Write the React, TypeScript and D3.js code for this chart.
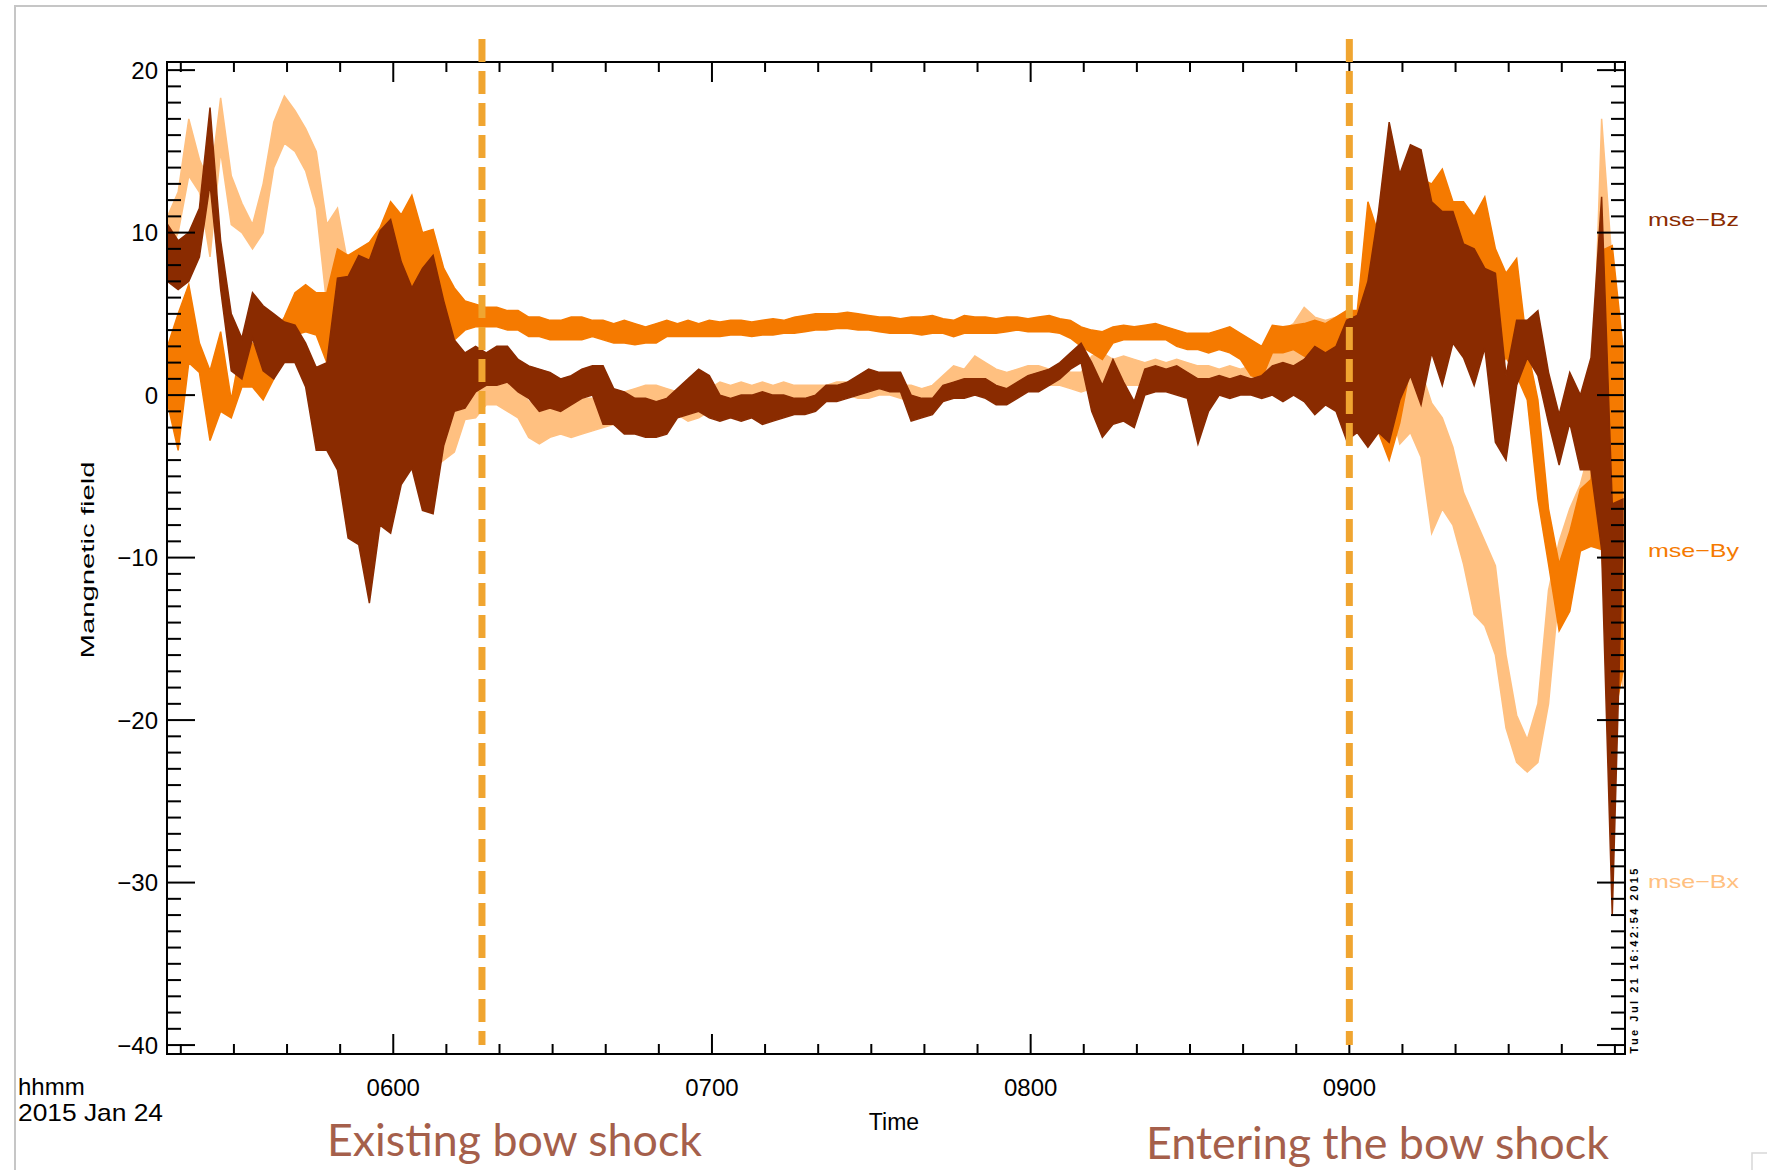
import * as d3 from "d3";

const W = 1767;
const H = 1170;

// samples every 2 min starting 05:17.5 UT (minutes after midnight)
const startMin = 317.5;
const stepMin = 2;

// each series is a low/high band (nT) at every sample
const bxLo = [8.5, 10, 13.5, 12.5, 8.5, 15, 10.5, 10, 9, 10, 14, 15.5, 15, 13.8, 11.5, 5.5, 4.5, 4.5, -4, -8, -5, -6, 4, 5.5, 2, -4.5, -4, -3.5, -1.5, -1.4, -0.6, -0.6, -1, -1.4, -2.6, -3, -2.6, -2.4, -2.6, -2.4, -2.2, -2, -1.8, -1.2, -0.8, -0.6, -0.6, -0.8, -1.2, -1.6, -1.4, -1, -0.8, -1, -0.8, -0.8, -0.6, -0.6, -0.4, -0.4, -0.2, -0.2, -0.2, 0, 0, -0.2, -0.2, 0, 0, -0.2, -0.4, -0.4, -0.2, 0.4, 0.6, 0.6, 0.8, 0.6, 0.4, 0.2, 0.4, 0.6, 0.6, 0.6, 0.6, 0.4, 0.2, 0.4, 0.6, 0.6, 0.6, 0.6, 0.6, 0.6, 0.8, 0.6, 0.6, 0.4, 0.6, 0.6, 0.6, 0.6, 0.6, 0.8, 1, 1.2, 1.4, 1.6, 2, 2, 2.2, 1.6, 1.2, 0.5, 1, -0.3, -3, -2.3, -3.8, -8.5, -7, -8, -10.4, -13.5, -14.2, -16, -20.5, -22.6, -23.2, -22.6, -19, -12, -10.4, -9, -7.5, 7, -10, -18];
const bxHi = [11, 12.5, 17, 14.5, 13, 18.3, 13.5, 11.8, 10.5, 13, 16.8, 18.4, 17.5, 16.4, 15, 10.5, 11.5, 8, 5, 6, 7, 8, 9, 11.5, 9, -0.5, 0, 0.2, 0.6, 0.6, 1, 1, 0.8, 0.6, -0.4, -0.6, -0.6, -0.6, -0.2, -0.2, -0.2, -0.6, -0.4, 0.2, 0.4, 0.6, 0.6, 0.4, 0.2, 0, 0, 0.4, 0.8, 0.6, 0.8, 0.6, 0.8, 0.6, 0.8, 0.6, 0.6, 0.6, 0.6, 0.8, 0.8, 0.6, 0.6, 0.6, 0.8, 0.6, 0.6, 0.4, 0.6, 1.2, 1.8, 1.6, 2.4, 2, 1.6, 1.4, 1.6, 1.8, 1.8, 1.6, 1.8, 1.4, 1.4, 2.4, 2.6, 2.2, 2.4, 2.2, 2, 2.2, 2, 2.2, 2, 1.8, 1.8, 1.6, 1.8, 1.6, 1.8, 2.4, 3.6, 4, 4.4, 5.4, 4.8, 4.6, 4.8, 5, 4.8, 4, 5, 7.5, 2.5, 2, 1.5, -0.5, -1.4, -3.2, -6, -7.5, -9, -10.5, -16, -19.7, -21.2, -19, -12, -9, -7, -5.5, -3, 17, 8, -16];

const byLo = [-0.5, -3.4, 2, 1.4, -2.8, -1, -1.4, 0.5, 0.5, -0.3, 1, 2.8, 3.7, 3.9, 3.7, 2, 1.7, 0.5, -3.9, -8.5, -5, 0.6, 2.6, 5.6, 3.4, 3.4, 2.6, 3.4, 4, 4.2, 4.2, 4.2, 4, 4, 3.6, 3.6, 3.4, 3.4, 3.4, 3.4, 3.6, 3.4, 3.2, 3.2, 3.1, 3.2, 3.2, 3.6, 3.6, 3.6, 3.6, 3.6, 3.6, 3.7, 3.7, 3.6, 3.7, 3.7, 3.8, 3.8, 3.9, 4, 4, 4.1, 4.1, 4, 4, 3.9, 3.8, 3.8, 3.8, 3.7, 3.8, 3.8, 3.6, 3.8, 3.8, 3.8, 3.8, 3.9, 4, 3.9, 3.9, 3.9, 3.8, 3.5, 3, 2.6, 2.2, 3.2, 3.4, 3.4, 3.4, 3.4, 3.4, 3, 2.8, 2.8, 2.6, 2.8, 2.6, 2.2, 1.2, 1, 2.6, 2.6, 2.8, 2.4, 2.2, 2, 2.4, 2.2, -1.7, -0.3, -2.3, -4, -1.7, 1.7, 5.5, 7, 7, 6.1, 6.4, 5.8, 6.4, 1.2, 2.3, 1.2, -0.3, -6.4, -10.4, -14.5, -13.3, -9.6, -9.3, -9.5, -20.5, -17];
const byHi = [3, 5, 6.8, 3.2, 1.5, 3.9, -0.3, 3.2, 3.2, 2.1, 3.7, 4.8, 6.3, 6.8, 6.3, 6.3, 9, 8.6, 9, 9.4, 10.3, 11.9, 11.1, 12.3, 10, 10.2, 7.8, 6.6, 5.8, 5.6, 5.4, 5.4, 5.2, 5.2, 4.8, 4.8, 4.6, 4.6, 4.8, 4.8, 4.6, 4.6, 4.4, 4.6, 4.4, 4.2, 4.4, 4.6, 4.4, 4.6, 4.4, 4.6, 4.5, 4.6, 4.6, 4.5, 4.6, 4.7, 4.6, 4.8, 4.9, 5, 5, 5, 5.1, 5, 4.9, 4.8, 4.8, 4.7, 4.8, 4.8, 4.9, 4.7, 4.6, 4.9, 4.8, 4.8, 4.7, 4.8, 4.8, 4.7, 4.8, 4.9, 4.7, 4.6, 4.2, 4, 3.9, 4.2, 4.3, 4.2, 4.3, 4.4, 4.2, 4, 3.8, 3.8, 3.8, 4, 4.2, 3.8, 3.4, 3, 4.3, 4.2, 4.3, 4.4, 4.6, 4.4, 4.8, 5.2, 5.2, 11.9, 9.9, 7, 6.7, 12.8, 13.3, 13, 13.9, 11.9, 11.9, 11, 12.2, 9, 7.5, 8.4, 2.9, -0.3, -7, -10.4, -8.4, -5.8, -5.2, 8.9, 9.2, 3];

const bzLo = [7, 6.5, 7, 8.5, 13, 6.5, 1.5, 1, 3.5, 1.5, 1, 2, 2, 0.5, -3.4, -3.4, -4.6, -8.8, -9.2, -12.8, -8, -8.5, -5.5, -4.5, -7.1, -7.3, -3.1, -1, -0.8, 0.2, 0.6, 0.6, 0.8, 0.2, -0.2, -1, -0.8, -1, -0.6, -0.2, 0, -1.8, -1.8, -2.4, -2.4, -2.6, -2.6, -2.4, -1.4, -1.2, -1, -1.4, -1.6, -1.4, -1.6, -1.4, -1.8, -1.6, -1.4, -1.2, -1.2, -1, -0.4, -0.4, -0.2, 0, 0.2, 0.4, 0.2, 0.2, -1.6, -1.4, -1.2, -0.4, -0.2, -0.2, 0, -0.2, -0.6, -0.6, -0.2, 0.2, 0.2, 0.6, 1, 1.6, 2, -1, -2.6, -1.8, -1.6, -2, 0, 0.2, 0.2, 0, -0.2, -3, -1, 0, -0.2, 0, 0, -0.2, 0, -0.4, 0, -0.4, -1.2, -0.6, -1, -2.8, -2.3, -3.2, -2.3, -2.9, -0.3, 1.2, -0.6, 2.6, 0.6, 3.2, 2.3, 0.6, 2.9, -2.9, -4, 0.6, 2.3, 1.2, -1.7, -4.3, -1.7, -4.6, -4.6, -9.5, -32, -8.8];
const bzHi = [10.5, 9.5, 10, 11.5, 17.7, 9.5, 5, 3.5, 6.3, 5.5, 5, 4.5, 4.3, 3.2, 1.7, 2, 7.2, 7.3, 8.6, 8.3, 10.1, 10.8, 8.2, 6.6, 7.8, 8.6, 5.8, 3.4, 2.6, 3, 2.6, 3, 3, 2.2, 1.8, 1.6, 1.4, 1, 1.2, 1.6, 1.8, 1.8, 0.4, 0.2, -0.2, -0.2, -0.4, -0.2, 0.4, 1, 1.6, 1.2, 0, -0.2, 0, 0, 0.2, 0, 0, -0.2, -0.2, 0, 0.6, 0.6, 0.8, 1.2, 1.6, 1.4, 1.4, 1.4, 0, -0.2, -0.2, 0.6, 0.8, 1, 1, 1, 0.6, 0.4, 0.8, 1.2, 1.4, 1.6, 2, 2.6, 3.2, 2, 0.6, 2.2, 0.8, -0.4, 1.6, 1.8, 1.6, 1.8, 1.4, 1, 1, 1.2, 1, 1.2, 1, 1.2, 1.8, 2, 1.8, 2.2, 3, 2.6, 3, 4.6, 4.9, 7, 11.3, 16.8, 13.6, 15.4, 15.1, 11.9, 11.3, 11.3, 9.3, 9, 7.8, 7.5, 1.2, 4.6, 4.6, 5.2, 1.4, -1.2, 1.4, 0, 2.3, 12.2, -6.7, -6.4];

const hourTicks = [360, 420, 480, 540];
const hourLabels = ["0600", "0700", "0800", "0900"];
const yLabels = [20, 10, 0, -10, -20, -30, -40];
const shockTimes = [376.7, 540];
const shockNotes = ["Existing bow shock", "Entering the bow shock"];
const seriesNames = ["mse\u2212Bz", "mse\u2212By", "mse\u2212Bx"];

const BZ = "#8a2b00";
const BY = "#f57a00";
const BX = "#ffc080";
const SHOCK = "#f0a530";
const NOTE = "#a55f4b";
const idl = "'Liberation Sans', Arial, sans-serif";

export default function App() {
  const left = 167, right = 1625, top = 62, bottom = 1054;
  const x = d3.scaleLinear().domain([317.4, 591.9]).range([left, right]);
  const y = d3.scaleLinear().domain([-40.55, 20.5]).range([bottom, top]);
  const times = bxLo.map((_, i) => startMin + i * stepMin);

  const band = (lo: number[], hi: number[]) =>
    d3
      .area<number>()
      .x((t) => x(t))
      .y0((_, i) => y(lo[i]))
      .y1((_, i) => y(hi[i]))(times) || "";

  const yMinor = d3.range(-40, 21, 1);
  const xMinor = d3.range(320, 592, 10);

  return (
    <svg
      width={W}
      height={H}
      style={{ position: "absolute", left: 0, top: 0, background: "#fff" }}
    >
      {/* slide frame */}
      <path d={`M15,${H} L15,6 L${W},6`} fill="none" stroke="#c6c6c6" strokeWidth={2} />
      <path d={`M1752,${H} L1752,1153 L${W},1153`} fill="none" stroke="#d8d8d8" strokeWidth={1.5} />

      <defs>
        <clipPath id="plotClip">
          <rect x={left} y={top} width={right - left} height={bottom - top} />
        </clipPath>
      </defs>

      <g clipPath="url(#plotClip)">
        <path d={band(bxLo, bxHi)} fill={BX} stroke={BX} strokeWidth={1.5} />
        <path d={band(byLo, byHi)} fill={BY} stroke={BY} strokeWidth={1.5} />
        <path d={band(bzLo, bzHi)} fill={BZ} stroke={BZ} strokeWidth={1.5} />
      </g>

      {/* axes box */}
      <rect x={left} y={top} width={right - left} height={bottom - top} fill="none" stroke="#000" strokeWidth={2} />
      {yMinor.map((v) => {
        const len = v % 10 === 0 ? 28 : 14;
        return (
          <g key={"y" + v} stroke="#000" strokeWidth={2}>
            <line x1={left} x2={left + len} y1={y(v)} y2={y(v)} />
            <line x1={right} x2={right - len} y1={y(v)} y2={y(v)} />
          </g>
        );
      })}
      {xMinor.map((t) => {
        const len = t % 60 === 0 ? 20 : 10;
        return (
          <g key={"x" + t} stroke="#000" strokeWidth={2}>
            <line x1={x(t)} x2={x(t)} y1={bottom} y2={bottom - len} />
            <line x1={x(t)} x2={x(t)} y1={top} y2={top + len} />
          </g>
        );
      })}

      <g fontFamily={idl} fontSize={24} fill="#000">
        {yLabels.map((v) => (
          <text key={v} x={158} y={y(v)} textAnchor="end" dominantBaseline="central">
            {v < 0 ? "\u2212" + Math.abs(v) : v}
          </text>
        ))}
        {hourTicks.map((t, i) => (
          <text key={t} x={x(t)} y={1096} textAnchor="middle">
            {hourLabels[i]}
          </text>
        ))}
        <text x={18} y={1095}>hhmm</text>
        <text x={18} y={1121} textLength={145} lengthAdjust="spacingAndGlyphs">2015 Jan 24</text>
        <text x={894} y={1130} textAnchor="middle" fontSize={23}>Time</text>
        <text
          transform="translate(87,560) rotate(-90)"
          textAnchor="middle"
          dominantBaseline="central"
          fontSize={19}
          textLength={197}
          lengthAdjust="spacingAndGlyphs"
        >
          Mangnetic field
        </text>
      </g>

      {/* series labels */}
      <g fontFamily={idl} fontSize={19}>
        <text x={1648} y={219} dominantBaseline="central" fill={BZ} textLength={91} lengthAdjust="spacingAndGlyphs">{seriesNames[0]}</text>
        <text x={1648} y={550} dominantBaseline="central" fill={BY} textLength={91} lengthAdjust="spacingAndGlyphs">{seriesNames[1]}</text>
        <text x={1648} y={881} dominantBaseline="central" fill={BX} textLength={91} lengthAdjust="spacingAndGlyphs">{seriesNames[2]}</text>
      </g>

      <text
        transform="translate(1634,961) rotate(-90)"
        textAnchor="middle"
        dominantBaseline="central"
        fontFamily={idl}
        fontSize={11}
        fontWeight="bold"
        textLength={185}
        lengthAdjust="spacing"
      >
        Tue Jul 21 16:42:54 2015
      </text>

      {/* bow shock markers */}
      {shockTimes.map((t) => (
        <line
          key={t}
          x1={x(t)}
          x2={x(t)}
          y1={39}
          y2={1045}
          stroke={SHOCK}
          strokeWidth={7}
          strokeDasharray="23 9"
        />
      ))}
      <g fontFamily="Lato, 'Open Sans', sans-serif" fontSize={45} fill={NOTE}>
        <text x={327} y={1156} textLength={375} lengthAdjust="spacingAndGlyphs">
          {shockNotes[0]}
        </text>
        <text x={1146} y={1159} textLength={463} lengthAdjust="spacingAndGlyphs">
          {shockNotes[1]}
        </text>
      </g>
    </svg>
  );
}
